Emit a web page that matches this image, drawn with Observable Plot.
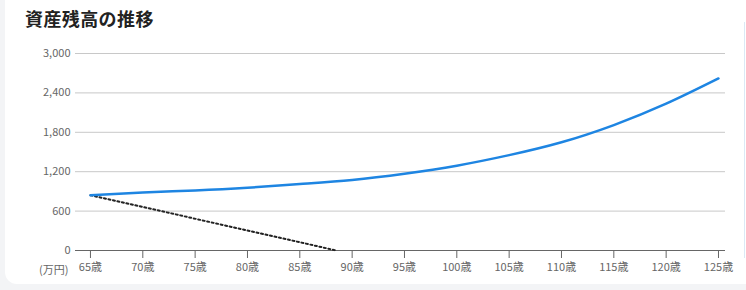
<!DOCTYPE html>
<html><head><meta charset="utf-8">
<script src="https://cdn.jsdelivr.net/npm/d3@7"></script>
<script src="https://cdn.jsdelivr.net/npm/@observablehq/plot@0.6"></script>
<style>
html,body{margin:0;padding:0;}
body{width:746px;height:290px;background:#f3f4f6;position:relative;overflow:hidden;font-family:"Noto Sans CJK JP","Noto Sans",sans-serif;}
#card{position:absolute;left:5px;top:-20px;width:760px;height:304px;background:#fff;border-radius:12px;}
#title{position:absolute;left:25px;top:5px;font-size:18px;font-weight:700;color:#222;letter-spacing:0.4px;}
#chart{position:absolute;left:0;top:35px;}
#unit{position:absolute;left:39px;top:261px;font-size:11px;color:#666;}
#edge{position:absolute;left:744px;top:22px;width:1px;height:236px;background:#dbe9f5;}
</style></head>
<body>
<div id="card"></div>
<div id="edge"></div>
<div id="title">資産残高の推移</div>
<div id="chart"></div>
<div id="unit">(万円)</div>
<script>
const ages = [65,70,75,80,85,90,95,100,105,110,115,120,125];
const investBalance = [842,883,914,955,1012,1075,1170,1292,1452,1648,1910,2235,2620];
const depleteAges = [65,88.5];
const depleteBalance = [842,0];
const yTicks = [0,600,1200,1800,2400,3000];

const invest = ages.map((a,i) => ({age:a, v:investBalance[i]}));
const deplete = depleteAges.map((a,i) => ({age:a, v:depleteBalance[i]}));

const chart = Plot.plot({
  width: 746,
  height: 255,
  marginLeft: 75,
  marginRight: 21,
  marginTop: 18,
  marginBottom: 40,
  style: {fontFamily: '"Noto Sans CJK JP","Noto Sans",sans-serif', fontSize: "11px", color: "#666", background: "transparent"},
  x: {domain: [63.57, 125.67], label: null},
  y: {domain: [0, 3000], label: null},
  marks: [
    Plot.ruleY(yTicks.filter(d => d > 0), {stroke: "#c8c8c8", strokeWidth: 1}),
    Plot.ruleY([0], {stroke: "#666", strokeWidth: 1}),
    Plot.axisX({ticks: ages, tickFormat: d => d + "歳", tickSize: 8, tickPadding: 5, stroke: "#666", color: "#666", label: null}),
    Plot.axisY({ticks: yTicks, tickFormat: d3.format(","), tickSize: 0, tickPadding: 5, color: "#666", label: null}),
    Plot.line(deplete, {x: "age", y: "v", stroke: "#222", strokeWidth: 2, strokeDasharray: "2,2.6"}),
    Plot.line(invest, {x: "age", y: "v", stroke: "#1e85e2", strokeWidth: 2.5, curve: "natural"})
  ]
});
document.getElementById("chart").appendChild(chart);
</script>
</body></html>
